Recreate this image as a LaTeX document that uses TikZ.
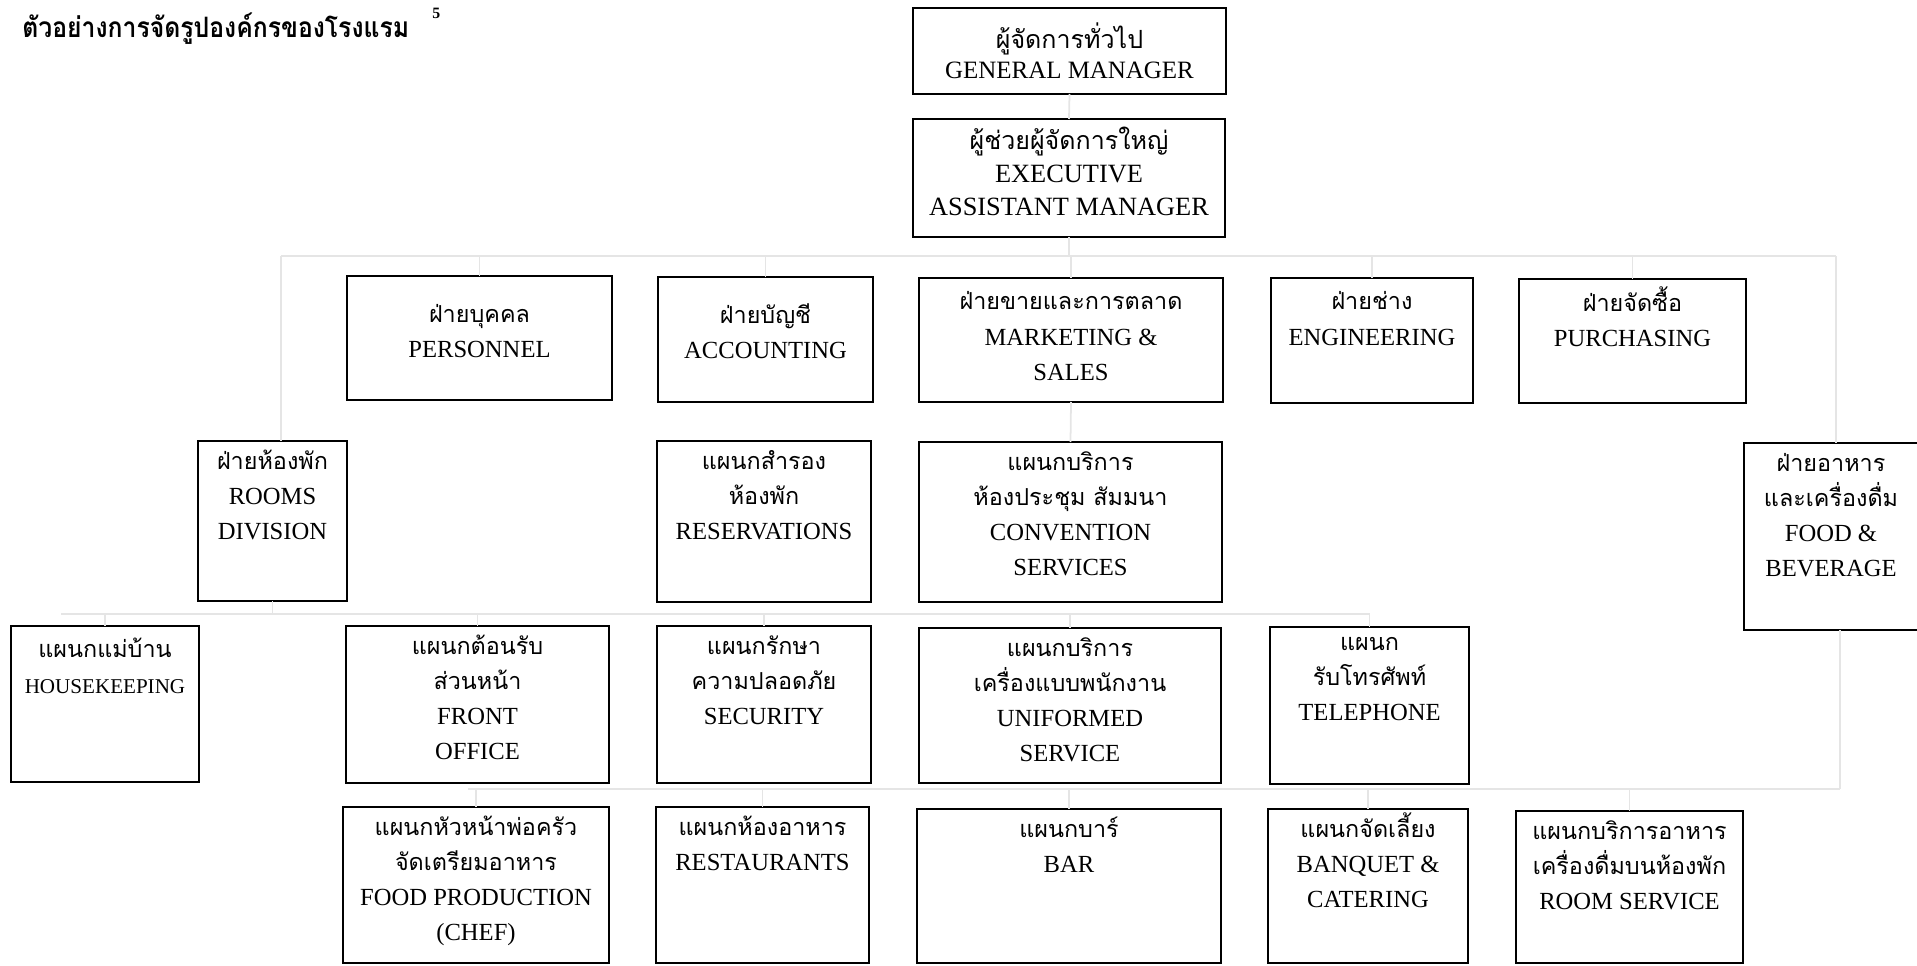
\documentclass[tikz,border=0pt]{standalone}
\usepackage{fontspec}
\setmainfont{Liberation Serif}
\newfontfamily\thaifont[Script=Thai,Scale=0.95]{Loma}
\newfontfamily\thaititle[Script=Thai,FakeStretch=0.88]{Loma}
\newcommand{\topstrut}{\rule{0pt}{14pt}}
\usetikzlibrary{positioning, fit}

\begin{document}
\begin{tikzpicture}[
  x=0.02cm, y=-0.02cm,
  every node/.style={font=\fontsize{14}{20}\selectfont},
  %% org-chart styles
  box/.style={draw, line width=1.3pt, inner sep=0pt, outer sep=0pt},
  lbl/.style={align=center, inner sep=2pt},
  link/.style={draw=black!10, line width=1pt},
]
\useasboundingbox (0,0) rectangle (1917,966);

%% =========================================================
%% TITLE
%% =========================================================
\node[anchor=north west, inner sep=0pt,
  font=\fontsize{16}{18}\selectfont\thaititle\bfseries] (title) at (22,12)
  {ตัวอย่างการจัดรูปองค์กรของโรงแรม};
\node[anchor=north west, inner sep=0pt,
  font=\fontsize{9}{10}\selectfont\bfseries] (titlenote) at (432,8) {5};

%% =========================================================
%% TOP — general manager, executive assistant
%% =========================================================
\node[box, fit={(913,8) (1226,94)}] (gm) {};
\node[lbl, below=6pt of gm.north, font=\fontsize{14.2}{17}\selectfont] (gm-t)
  {\topstrut{\thaifont\fontsize{15}{17}\selectfont ผู้จัดการทั่วไป}\\GENERAL MANAGER};

\node[box, fit={(913,119) (1225,237)}] (eam) {};
\node[lbl, below=1pt of eam.north, font=\fontsize{15}{19}\selectfont] (eam-t)
  {\topstrut{\thaifont ผู้ช่วยผู้จัดการใหญ่}\\EXECUTIVE\\ASSISTANT MANAGER};

%% =========================================================
%% ROW 2 — departments
%% =========================================================
\node[box, fit={(347,276) (612,400)}] (pers) {};
\node[lbl, below=10pt of pers.north] (pers-t)
  {\topstrut{\thaifont ฝ่ายบุคคล}\\PERSONNEL};

\node[box, fit={(658,277) (873,402)}] (acct) {};
\node[lbl, below=10pt of acct.north] (acct-t)
  {\topstrut{\thaifont ฝ่ายบัญชี}\\ACCOUNTING};

\node[box, fit={(919,278) (1223,402)}] (mkt) {};
\node[lbl, below=2pt of mkt.north] (mkt-t)
  {\topstrut{\thaifont ฝ่ายขายและการตลาด}\\MARKETING \&\\SALES};

\node[box, fit={(1271,278) (1473,403)}] (eng) {};
\node[lbl, below=2pt of eng.north] (eng-t)
  {\topstrut{\thaifont ฝ่ายช่าง}\\ENGINEERING};

\node[box, fit={(1519,279) (1746,403)}] (pur) {};
\node[lbl, below=2pt of pur.north] (pur-t)
  {\topstrut{\thaifont ฝ่ายจัดซื้อ}\\PURCHASING};

%% =========================================================
%% ROW 3 — divisions and sections
%% =========================================================
\node[box, fit={(198,441) (347,601)}] (rooms) {};
\node[lbl, below=0pt of rooms.north] (rooms-t)
  {\topstrut{\thaifont ฝ่ายห้องพัก}\\ROOMS\\DIVISION};

\node[box, fit={(657,441) (871,602)}] (resv) {};
\node[lbl, below=0pt of resv.north] (resv-t)
  {\topstrut{\thaifont แผนกสำรอง}\\{\thaifont ห้องพัก}\\RESERVATIONS};

\node[box, fit={(919,442) (1222,602)}] (conv) {};
\node[lbl, below=0pt of conv.north] (conv-t)
  {\topstrut{\thaifont แผนกบริการ}\\{\thaifont ห้องประชุม สัมมนา}\\CONVENTION\\SERVICES};

\node[box, fit={(1744,443) (1918,630)}] (fb) {};
\node[lbl, below=0pt of fb.north] (fb-t)
  {\topstrut{\thaifont ฝ่ายอาหาร}\\{\thaifont และเครื่องดื่ม}\\FOOD \&\\BEVERAGE};

%% =========================================================
%% ROW 4 — rooms sections
%% =========================================================
\node[box, fit={(11,626) (199,782)}] (hk) {};
\node[lbl, below=2pt of hk.north, font=\fontsize{12}{20}\selectfont] (hk-t)
  {\topstrut{\thaifont\fontsize{14}{20}\selectfont แผนกแม่บ้าน}\\HOUSEKEEPING};

\node[box, fit={(346,626) (609,783)}] (fo) {};
\node[lbl, below=0pt of fo.north] (fo-t)
  {\topstrut{\thaifont แผนกต้อนรับ}\\{\thaifont ส่วนหน้า}\\FRONT\\OFFICE};

\node[box, fit={(657,626) (871,783)}] (sec) {};
\node[lbl, below=0pt of sec.north] (sec-t)
  {\topstrut{\thaifont แผนกรักษา}\\{\thaifont ความปลอดภัย}\\SECURITY};

\node[box, fit={(919,628) (1221,783)}] (uni) {};
\node[lbl, below=0pt of uni.north] (uni-t)
  {\topstrut{\thaifont แผนกบริการ}\\{\thaifont เครื่องแบบพนักงาน}\\UNIFORMED\\SERVICE};

\node[box, fit={(1270,627) (1469,784)}] (tel) {};
\node[lbl, below=-3pt of tel.north] (tel-t)
  {\topstrut{\thaifont แผนก}\\{\thaifont รับโทรศัพท์}\\TELEPHONE};

%% =========================================================
%% ROW 5 — food & beverage sections
%% =========================================================
\node[box, fit={(343,807) (609,963)}] (chef) {};
\node[lbl, below=0pt of chef.north] (chef-t)
  {\topstrut{\thaifont แผนกหัวหน้าพ่อครัว}\\{\thaifont จัดเตรียมอาหาร}\\FOOD PRODUCTION\\(CHEF)};

\node[box, fit={(656,807) (869,963)}] (rest) {};
\node[lbl, below=0pt of rest.north] (rest-t)
  {\topstrut{\thaifont แผนกห้องอาหาร}\\RESTAURANTS};

\node[box, fit={(917,809) (1221,963)}] (bar) {};
\node[lbl, below=0pt of bar.north] (bar-t)
  {\topstrut{\thaifont แผนกบาร์}\\BAR};

\node[box, fit={(1268,809) (1468,963)}] (banq) {};
\node[lbl, below=0pt of banq.north] (banq-t)
  {\topstrut{\thaifont แผนกจัดเลี้ยง}\\BANQUET \&\\CATERING};

\node[box, fit={(1516,811) (1743,963)}] (rsvc) {};
\node[lbl, below=0pt of rsvc.north] (rsvc-t)
  {\topstrut{\thaifont แผนกบริการอาหาร}\\{\thaifont เครื่องดื่มบนห้องพัก}\\ROOM SERVICE};

%% =========================================================
%% CONNECTORS — faint lines
%% =========================================================
\draw[link] (gm.south) -- (eam.north);

\coordinate (busL) at (281,256);
\coordinate (busR) at (1836,256);
\draw[link] (eam.south) -- (eam.south |- busL);
\draw[link] (busL) -- (busR);
\foreach \d in {pers, acct, mkt, eng, pur}
  \draw[link] (\d.north |- busL) -- (\d.north);
\draw[link] (busL) -- (busL |- rooms.north);
\draw[link] (busR) -- (busR |- fb.north);
\draw[link] (mkt.south) -- (conv.north);

\coordinate (bus4L) at (61,614);
\coordinate (bus4R) at (1370,614);
\draw[link] (rooms.south) -- (rooms.south |- bus4L);
\draw[link] (bus4L) -- (bus4R);
\foreach \d in {hk, fo, sec, uni, tel}
  \draw[link] (\d.north |- bus4L) -- (\d.north);

\coordinate (bus5L) at (468,789);
\coordinate (bus5R) at (1840,789);
\draw[link] (bus5R |- fb.south) -- (bus5R);
\draw[link] (bus5L) -- (bus5R);
\foreach \d in {chef, rest, bar, banq, rsvc}
  \draw[link] (\d.north |- bus5L) -- (\d.north);

\end{tikzpicture}
\end{document}
